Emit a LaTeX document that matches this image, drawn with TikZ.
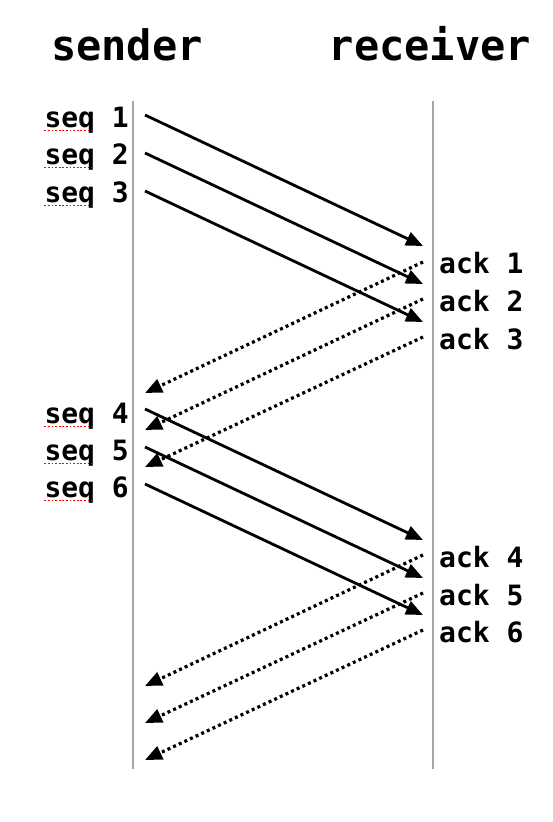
\documentclass[tikz,border=0pt]{standalone}
\usepackage{fontspec}
\newfontfamily\monofont{DejaVu Sans Mono}
\usetikzlibrary{arrows.meta}

\tikzset{
  lifeline/.style={draw=black!35, line width=2.6pt},
  head/.style={font=\monofont\bfseries\fontsize{42}{48}\selectfont, inner sep=0pt, anchor=base},
  seqtext/.style={font=\monofont\bfseries\fontsize{28}{32}\selectfont, inner sep=0pt, anchor=base east},
  acktext/.style={font=\monofont\bfseries\fontsize{28}{32}\selectfont, inner sep=0pt, anchor=base west},
  msg/.style={line width=2.8pt, -{Triangle[length=17pt,width=14pt]}},
  ackmsg/.style={line width=3.2pt, dash pattern=on 3pt off 3.2pt, -{Triangle[length=17pt,width=14pt]}},
  squiggle/.style={draw=red, line width=1.8pt, dash pattern=on 1.8pt off 1.8pt},
}

\begin{document}
\begin{tikzpicture}[x=1pt,y=-1pt]
  \useasboundingbox (0,0) rectangle (552,822);

  % headings
  \node[head] (sender) at (127,60) {sender};
  \node[head] (receiver) at (430,60) {receiver};

  % lifelines
  \coordinate (stop) at (133,101);
  \coordinate (sbot) at (133,769);
  \coordinate (rtop) at (433,101);
  \coordinate (rbot) at (433,769);
  \draw[lifeline] (stop) -- (sbot);
  \draw[lifeline] (rtop) -- (rbot);

  % sequence labels
  \node[seqtext] (seq1) at (129,127) {seq 1};
  \node[seqtext] (seq2) at (129,164) {seq 2};
  \node[seqtext] (seq3) at (129,202) {seq 3};
  \node[seqtext] (seq4) at (129,423) {seq 4};
  \node[seqtext] (seq5) at (129,460) {seq 5};
  \node[seqtext] (seq6) at (129,497) {seq 6};

  % spell-check marks under seq
  \draw[squiggle] ([yshift=-3.5pt]seq1.base west) -- ++(47,0);
  \draw[squiggle] ([yshift=-3.5pt]seq2.base west) -- ++(47,0);
  \draw[squiggle] ([yshift=-3.5pt]seq3.base west) -- ++(47,0);
  \draw[squiggle] ([yshift=-3.5pt]seq4.base west) -- ++(47,0);
  \draw[squiggle] ([yshift=-3.5pt]seq5.base west) -- ++(47,0);
  \draw[squiggle] ([yshift=-3.5pt]seq6.base west) -- ++(47,0);

  % ack labels
  \node[acktext] (ack1) at (439,273) {ack 1};
  \node[acktext] (ack2) at (439,311) {ack 2};
  \node[acktext] (ack3) at (439,349) {ack 3};
  \node[acktext] (ack4) at (439,567) {ack 4};
  \node[acktext] (ack5) at (439,605) {ack 5};
  \node[acktext] (ack6) at (439,642) {ack 6};

  % message end points
  \coordinate (sout1) at (145,115); \coordinate (rin1) at (423,246);
  \coordinate (sout2) at (145,153); \coordinate (rin2) at (423,284);
  \coordinate (sout3) at (145,191); \coordinate (rin3) at (423,322);
  \coordinate (sout4) at (145,409); \coordinate (rin4) at (423,540);
  \coordinate (sout5) at (145,447); \coordinate (rin5) at (423,578);
  \coordinate (sout6) at (145,484); \coordinate (rin6) at (423,615);

  \coordinate (rout1) at (423,262); \coordinate (sin1) at (145,393);
  \coordinate (rout2) at (423,299); \coordinate (sin2) at (145,430);
  \coordinate (rout3) at (423,337); \coordinate (sin3) at (145,467);
  \coordinate (rout4) at (423,555); \coordinate (sin4) at (145,686);
  \coordinate (rout5) at (423,593); \coordinate (sin5) at (145,723);
  \coordinate (rout6) at (423,630); \coordinate (sin6) at (145,760);

  % data
  \draw[msg] (sout1) -- (rin1);
  \draw[msg] (sout2) -- (rin2);
  \draw[msg] (sout3) -- (rin3);
  \draw[msg] (sout4) -- (rin4);
  \draw[msg] (sout5) -- (rin5);
  \draw[msg] (sout6) -- (rin6);

  % acks
  \draw[ackmsg] (rout1) -- (sin1);
  \draw[ackmsg] (rout2) -- (sin2);
  \draw[ackmsg] (rout3) -- (sin3);
  \draw[ackmsg] (rout4) -- (sin4);
  \draw[ackmsg] (rout5) -- (sin5);
  \draw[ackmsg] (rout6) -- (sin6);
\end{tikzpicture}
\end{document}
